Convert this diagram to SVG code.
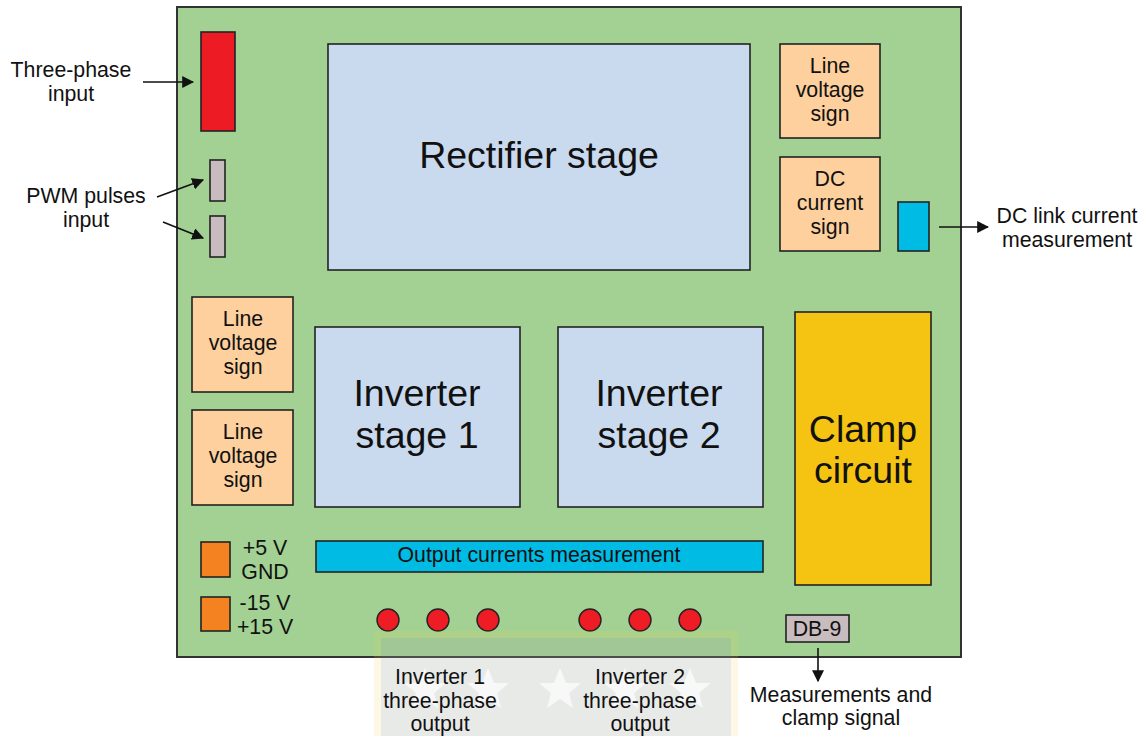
<svg xmlns="http://www.w3.org/2000/svg" width="1145" height="736" viewBox="0 0 1145 736">
<style>
text{font-family:"Liberation Sans",Arial,sans-serif;fill:#111;text-anchor:middle}
.s{font-size:21.3px}
.b{font-size:37.5px}
.k{stroke:#222;stroke-width:1.6}
.blk{fill:#c9d9ee}
.sig{fill:#fdd09d}
.con{fill:#c8bcbf}
.dot{fill:#ee1c25;stroke:#222;stroke-width:1.4}
.ln{stroke:#111;stroke-width:1.6;fill:none;marker-end:url(#ah)}
</style>
<defs>
<marker id="ah" viewBox="0 0 10 10" refX="9" refY="5" markerWidth="12" markerHeight="12" markerUnits="userSpaceOnUse" orient="auto"><path d="M0,0L10,5L0,10z" fill="#111"/></marker>
<polygon id="star" points="0,-22 6,-7 21,-7 9,3 13,18 0,9 -13,18 -9,3 -21,-7 -6,-7"/>
</defs>
<rect width="1145" height="736" fill="#fff"/>
<g id="board"><rect x="177" y="7" width="784" height="650" fill="#a2d193" stroke="#333" stroke-width="2"/></g>
<g id="three-phase-input"><rect class="k" x="201" y="32" width="34" height="99" fill="#ed1c24"/></g>
<g id="pwm1"><rect class="k con" x="210" y="160" width="15" height="41"/></g>
<g id="pwm2"><rect class="k con" x="210" y="216" width="15" height="41"/></g>
<g id="rectifier"><rect class="k blk" x="328" y="44" width="422" height="226"/><text class="b" x="539" y="168">Rectifier stage</text></g>
<g id="line-voltage-sign-top"><rect class="k sig" x="780" y="44" width="100" height="94"/><text class="s" x="830" y="73">Line</text><text class="s" x="830" y="97">voltage</text><text class="s" x="830" y="121">sign</text></g>
<g id="dc-current-sign"><rect class="k sig" x="780" y="157" width="100" height="94"/><text class="s" x="830" y="186">DC</text><text class="s" x="830" y="210">current</text><text class="s" x="830" y="234">sign</text></g>
<g id="dc-link-sensor"><rect class="k" x="898" y="202" width="31" height="49" fill="#00bbe4"/></g>
<g id="line-voltage-sign-1"><rect class="k sig" x="192" y="297" width="101" height="95"/><text class="s" x="243" y="326">Line</text><text class="s" x="243" y="350">voltage</text><text class="s" x="243" y="374">sign</text></g>
<g id="line-voltage-sign-2"><rect class="k sig" x="192" y="410" width="101" height="95"/><text class="s" x="243" y="439">Line</text><text class="s" x="243" y="463">voltage</text><text class="s" x="243" y="487">sign</text></g>
<g id="inverter1"><rect class="k blk" x="315" y="327" width="205" height="180"/><text class="b" x="417" y="406">Inverter</text><text class="b" x="417" y="448">stage 1</text></g>
<g id="inverter2"><rect class="k blk" x="558" y="327" width="205" height="180"/><text class="b" x="659" y="406">Inverter</text><text class="b" x="659" y="448">stage 2</text></g>
<g id="clamp"><rect class="k" x="795" y="312" width="136" height="273" fill="#f5c413"/><text class="b" x="863" y="442">Clamp</text><text class="b" x="863" y="483">circuit</text></g>
<g id="output-currents"><rect class="k" x="316" y="541" width="447" height="31" fill="#00bbe4"/><text class="s" x="539" y="562">Output currents measurement</text></g>
<g id="supply1"><rect class="k" x="201" y="542" width="29" height="35" fill="#f58220"/><text class="s" x="265" y="555">+5 V</text><text class="s" x="265" y="579">GND</text></g>
<g id="supply2"><rect class="k" x="201" y="597" width="29" height="34" fill="#f58220"/><text class="s" x="265" y="610">-15 V</text><text class="s" x="265" y="634">+15 V</text></g>
<g id="inv1-outputs"><circle class="dot" cx="388" cy="620" r="11"/><circle class="dot" cx="438" cy="620" r="11"/><circle class="dot" cx="488" cy="620" r="11"/></g>
<g id="inv2-outputs"><circle class="dot" cx="590" cy="620" r="11"/><circle class="dot" cx="640" cy="620" r="11"/><circle class="dot" cx="690" cy="620" r="11"/></g>
<g id="db9"><rect class="k con" x="786" y="615" width="63" height="27"/><text class="s" x="817" y="636">DB-9</text></g>
<g id="watermark" opacity="0.3">
<rect x="374" y="631" width="364" height="110" fill="#f3d25a" opacity="0.5"/>
<rect x="381" y="638" width="350" height="100" fill="#7f97bf" opacity="0.55"/>
<g fill="#fff" opacity="0.7"><use href="#star" x="425" y="690"/><use href="#star" x="488" y="690"/><use href="#star" x="560" y="690"/><use href="#star" x="625" y="690"/><use href="#star" x="690" y="690"/></g>
</g>
<g id="labels">
<text class="s" x="71" y="77">Three-phase</text><text class="s" x="71" y="101">input</text>
<text class="s" x="86" y="203">PWM pulses</text><text class="s" x="86" y="227">input</text>
<text class="s" x="1067" y="223">DC link current</text><text class="s" x="1067" y="247">measurement</text>
<text class="s" x="440" y="684">Inverter 1</text><text class="s" x="440" y="708">three-phase</text><text class="s" x="440" y="731">output</text>
<text class="s" x="640" y="684">Inverter 2</text><text class="s" x="640" y="708">three-phase</text><text class="s" x="640" y="731">output</text>
<text class="s" x="841" y="702">Measurements and</text><text class="s" x="841" y="725">clamp signal</text>
</g>
<g id="connectors">
<line class="ln" x1="143" y1="82" x2="193" y2="82"/>
<line class="ln" x1="157" y1="197" x2="203" y2="180"/>
<line class="ln" x1="163" y1="222" x2="203" y2="238"/>
<line class="ln" x1="939" y1="227" x2="988" y2="227"/>
<line class="ln" x1="818" y1="648" x2="818" y2="681"/>
</g>
</svg>
